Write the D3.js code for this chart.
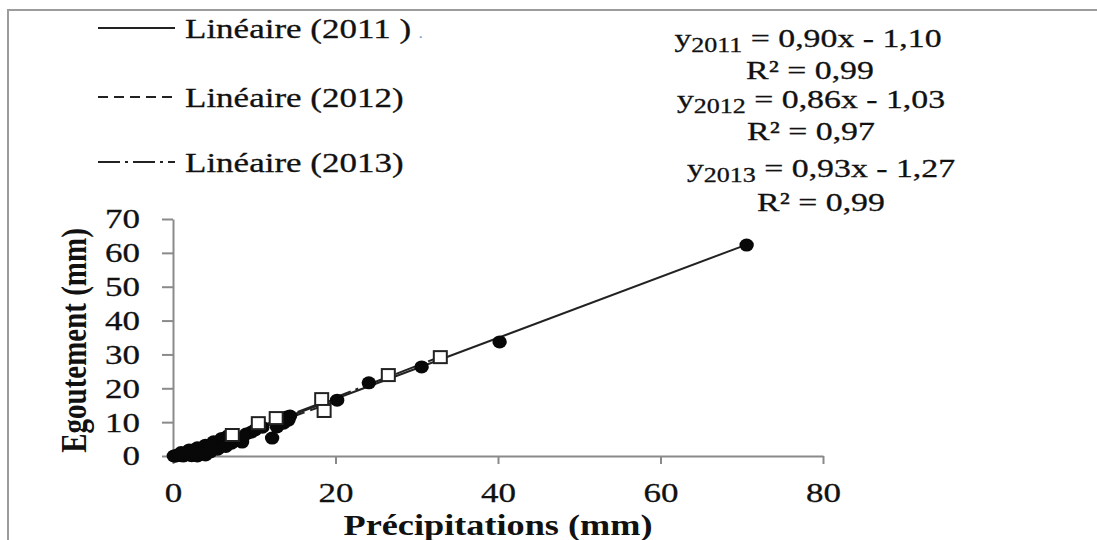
<!DOCTYPE html>
<html>
<head>
<meta charset="utf-8">
<script src="https://cdn.jsdelivr.net/npm/d3@7"></script>
<style>
  html, body { margin: 0; padding: 0; background: #fff; }
  svg { display: block; }
  text { font-family: "Liberation Serif", "Times New Roman", serif; fill: #111; }
</style>
</head>
<body>
<svg id="chart" width="1097" height="540"></svg>
<script>
// ---- data -------------------------------------------------------------
const years = ["2011", "2012", "2013"];

// 2011 : filled circles
const precip2011 = [0.1, 0.3, 0.5, 0.7, 1.0, 1.0, 1.2, 1.5, 1.8, 2.0, 2.1, 2.4, 2.8, 3.0, 3.1, 3.4, 3.8, 4.0, 4.2, 4.6,
                    5.0, 5.0, 5.4, 5.8, 6.2, 6.6, 6.8, 7.2,
                    7.5, 8.5, 9.0, 11.0, 12.2, 13.2, 14.0, 14.4, 24.1, 30.6, 40.2, 70.6];
const egout2011  = [0.0, 0.0, 0.1, 0.2, 0.1, 1.0, 0.4, 0.3, 0.6, 1.8, 0.3, 0.9, 0.5, 0.0, 1.4, 0.8, 2.0, 3.2, 1.6, 2.6,
                    2.2, 4.2, 3.3, 3.0, 4.2, 3.8, 6.0, 3.8,
                    5.8, 4.1, 6.5, 8.5, 5.3, 10.4, 11.5, 11.8, 21.6, 26.3, 33.7, 62.3];

// 2012 : filled circles
const precip2012 = [0.2, 0.6, 0.9, 1.3, 1.6, 2.0, 2.3, 2.6, 3.0, 3.0, 3.3, 3.6, 4.0, 4.4, 4.6, 4.8, 5.2, 5.5, 5.6,
                    6.0, 6.0, 6.4, 6.5,
                    6.8, 9.6, 10.1, 12.8, 13.6, 14.2, 20.2];
const egout2012  = [0.0, 0.2, 0.4, 0.0, 0.7, 0.9, 0.1, 1.3, 0.4, 2.4, 1.7, 1.0, 0.3, 1.7, 1.2, 2.9, 2.4, 2.0, 3.7,
                    4.9, 5.2, 4.4, 2.8,
                    5.5, 7.0, 7.7, 8.6, 9.7, 10.6, 16.5];

// 2013 : open squares
const precip2013 = [7.3, 10.5, 12.7, 18.3, 18.6, 26.5, 32.9];
const egout2013  = [6.2, 9.7, 11.2, 16.8, 13.3, 23.9, 29.2];

// linear fits
const slopes     = [0.90, 0.86, 0.93];
const intercepts = [-1.10, -1.03, -1.27];
const r2         = [0.99, 0.97, 0.99];

const legendLabels = ["Linéaire (2011 )", "Linéaire (2012)", "Linéaire (2013)"];

const xTicks = [0, 20, 40, 60, 80];
const yTicks = [0, 10, 20, 30, 40, 50, 60, 70];
const xTitle = "Précipitations (mm)";
const yTitle = "Egoutement (mm)";

// ---- setup ------------------------------------------------------------
const SX = 1.25;               // horizontal text stretch
const svg = d3.select("#chart");
const x = d3.scaleLinear().domain([0, 80]).range([173, 823]);
const y = d3.scaleLinear().domain([0, 70]).range([456, 219]);
const axisColor = "#8a8a8a";
const ink = "#141414";

// outer frame (left and top edges)
svg.append("path")
  .attr("d", "M8,540V10H1097")
  .attr("fill", "none")
  .attr("stroke", "#9c9c9c")
  .attr("stroke-width", 2);

// ---- axes -------------------------------------------------------------
const gx = svg.append("g")
  .attr("transform", `translate(0,${y(0)})`)
  .call(d3.axisBottom(x).tickValues(xTicks).tickSize(8).tickSizeOuter(0).tickFormat(d3.format("d")));
const gy = svg.append("g")
  .attr("transform", `translate(${x(0)},0)`)
  .call(d3.axisLeft(y).tickValues(yTicks).tickSize(11).tickSizeOuter(0).tickFormat(d3.format("d")));

[gx, gy].forEach(g => {
  g.select(".domain").attr("stroke", axisColor).attr("stroke-width", 2);
  g.selectAll(".tick line").attr("stroke", axisColor).attr("stroke-width", 2);
  g.selectAll(".tick text").attr("font-size", 28).attr("fill", ink)
    .attr("stroke", ink).attr("stroke-width", 0.3)
    .style("font-family", '"Liberation Serif", "Times New Roman", serif');
});
gx.selectAll(".tick text")
  .attr("y", 0).attr("dy", 0)
  .attr("transform", `translate(0,46) scale(${SX},1)`);
gy.selectAll(".tick text")
  .attr("x", 0)
  .attr("transform", `translate(-33,0) scale(${SX},1)`);

// axis titles
svg.append("text")
  .attr("text-anchor", "middle")
  .attr("font-size", 29)
  .attr("font-weight", "bold")
  .attr("transform", `translate(${(x(0) + x(80)) / 2},535) scale(${SX},1)`)
  .text(xTitle);
svg.append("text")
  .attr("text-anchor", "middle")
  .attr("font-size", 29)
  .attr("font-weight", "bold")
  .attr("transform", `translate(86,${(y(0) + y(70)) / 2 + 3}) scale(${SX},1) rotate(-90)`)
  .text(yTitle);

// ---- trend lines -------------------------------------------------------
const dashes = [null, "10,6", "22,5,3,5"];
const seriesX = [precip2011, precip2012, precip2013];
const seriesY = [egout2011, egout2012, egout2013];

years.forEach((yr, i) => {
  const [x0, x1] = d3.extent(seriesX[i]);
  const pts = [x0, x1].map(v => [v, slopes[i] * v + intercepts[i]]);
  svg.append("path")
    .datum(pts)
    .attr("d", d3.line().x(d => x(d[0])).y(d => y(d[1])))
    .attr("fill", "none")
    .attr("stroke", "#222")
    .attr("stroke-width", 2)
    .attr("stroke-dasharray", dashes[i]);
});

// ---- markers -----------------------------------------------------------
[0, 1].forEach(i => {
  svg.append("g").selectAll("ellipse")
    .data(d3.zip(seriesX[i], seriesY[i]))
    .join("ellipse")
    .attr("cx", d => x(d[0]))
    .attr("cy", d => y(d[1]))
    .attr("rx", 7.2)
    .attr("ry", 6.5)
    .attr("fill", "#080808");
});

svg.append("g").selectAll("rect")
  .data(d3.zip(precip2013, egout2013))
  .join("rect")
  .attr("x", d => x(d[0]) - 6.5)
  .attr("y", d => y(d[1]) - 6)
  .attr("width", 13)
  .attr("height", 12)
  .attr("fill", "#fff")
  .attr("stroke", "#222")
  .attr("stroke-width", 2);

// ---- legend ------------------------------------------------------------
const legendY = [28, 97, 162];
legendLabels.forEach((lab, i) => {
  svg.append("line")
    .attr("x1", 98).attr("x2", 175)
    .attr("y1", legendY[i]).attr("y2", legendY[i])
    .attr("stroke", "#222")
    .attr("stroke-width", 2)
    .attr("stroke-dasharray", dashes[i]);
  const t = svg.append("text")
    .attr("font-size", 28)
    .attr("stroke", ink).attr("stroke-width", 0.3)
    .attr("transform", `translate(185,${legendY[i] + 10}) scale(${SX},1)`)
    .text(lab);
  if (i === 0) {
    t.append("tspan").attr("font-size", 14).attr("dx", 6)
      .attr("fill", "#6f9cc9").attr("stroke", "none").text(".");
  }
});

// ---- equations ---------------------------------------------------------
const fmt = v => d3.format(".2f")(Math.abs(v)).replace(".", ",");
const EQ_SX = 1.3;
const eqX = [808, 811, 821];
const eqY = [47, 108, 177];
const r2X = [810, 811, 821];
const r2Y = [79, 140, 211];
years.forEach((yr, i) => {
  const t = svg.append("text")
    .attr("text-anchor", "middle")
    .attr("font-size", 26)
    .attr("stroke", ink).attr("stroke-width", 0.3)
    .attr("transform", `translate(${eqX[i]},${eqY[i]}) scale(${EQ_SX},1)`);
  t.append("tspan").text("y");
  t.append("tspan").attr("font-size", 20).attr("dy", 5).text(yr);
  t.append("tspan").attr("dy", -5)
    .text(` = ${fmt(slopes[i])}x ${intercepts[i] < 0 ? "-" : "+"} ${fmt(intercepts[i])}`);
  svg.append("text")
    .attr("text-anchor", "middle")
    .attr("font-size", 26)
    .attr("stroke", ink).attr("stroke-width", 0.3)
    .attr("transform", `translate(${r2X[i]},${r2Y[i]}) scale(${EQ_SX},1)`)
    .text(`R² = ${fmt(r2[i])}`);
});
</script>
</body>
</html>
